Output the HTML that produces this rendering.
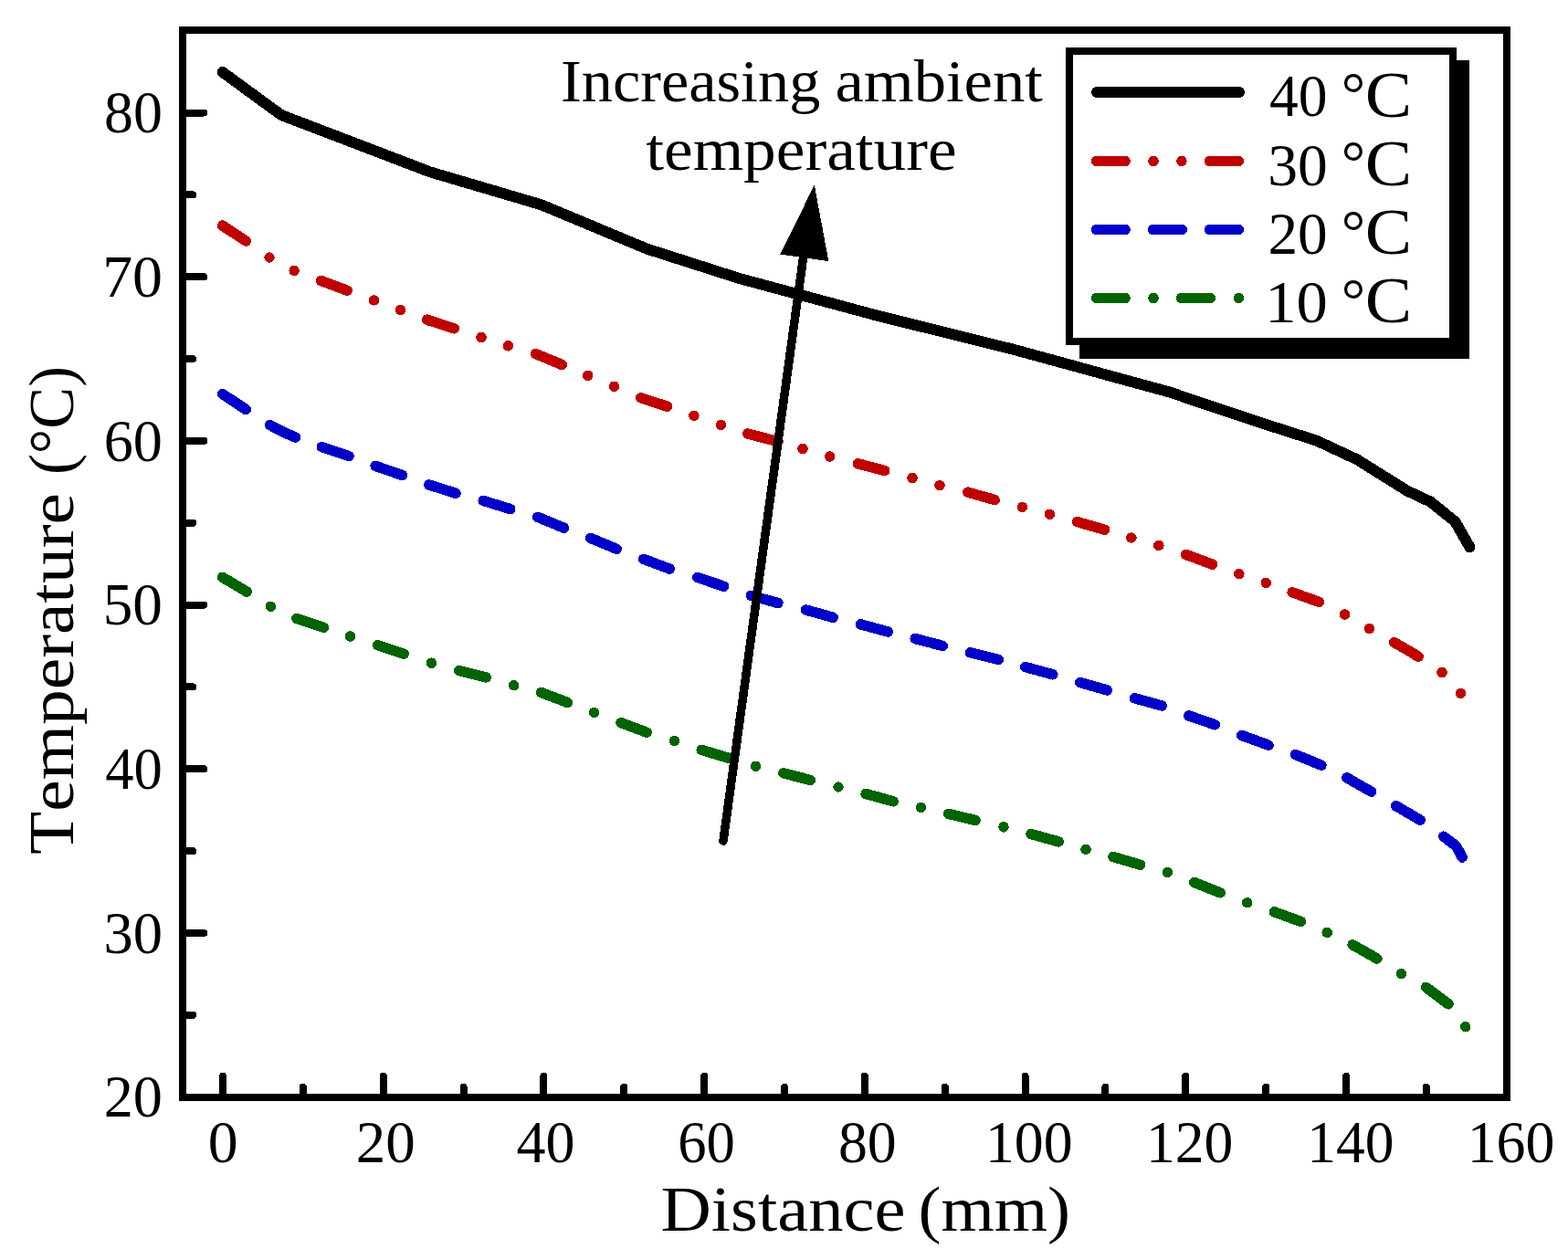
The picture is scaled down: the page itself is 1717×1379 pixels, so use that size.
<!DOCTYPE html>
<html><head><meta charset="utf-8"><title>Temperature vs Distance</title>
<style>html,body{margin:0;padding:0;background:#fff;}svg{display:block;}text{font-kerning:none;}</style>
</head><body>
<svg width="1717" height="1379" viewBox="0 0 1717 1379" shape-rendering="crispEdges">
<rect x="0" y="0" width="1717" height="1379" fill="#fff"/>
<polyline points="243.6,78.9 308.0,126.0 471.1,188.4 592.5,224.2 708.7,272.7 810.0,305.1 960.3,345.6 1110.0,382.8 1280.0,429.3 1380.0,462.9 1442.1,482.8 1486.0,503.3 1540.5,537.4 1566.2,549.5 1593.5,571.4 1609.4,599.4" fill="none" stroke="#000" stroke-width="12" stroke-linecap="round" stroke-linejoin="round"/>
<polyline points="243.6,247.1 269.3,264.0" fill="none" stroke="#c00000" stroke-width="11.5" stroke-linecap="round" stroke-linejoin="round"/>
<polyline points="351.4,307.4 380.3,318.2" fill="none" stroke="#c00000" stroke-width="11.5" stroke-linecap="round" stroke-linejoin="round"/>
<polyline points="467.6,350.2 497.3,359.8" fill="none" stroke="#c00000" stroke-width="11.5" stroke-linecap="round" stroke-linejoin="round"/>
<polyline points="586.4,387.5 615.2,399.4" fill="none" stroke="#c00000" stroke-width="11.5" stroke-linecap="round" stroke-linejoin="round"/>
<polyline points="701.7,435.8 730.6,445.2" fill="none" stroke="#c00000" stroke-width="11.5" stroke-linecap="round" stroke-linejoin="round"/>
<polyline points="818.7,475.0 852.0,483.7" fill="none" stroke="#c00000" stroke-width="11.5" stroke-linecap="round" stroke-linejoin="round"/>
<polyline points="939.3,507.8 968.7,515.5" fill="none" stroke="#c00000" stroke-width="11.5" stroke-linecap="round" stroke-linejoin="round"/>
<polyline points="1059.9,539.2 1089.2,547.5" fill="none" stroke="#c00000" stroke-width="11.5" stroke-linecap="round" stroke-linejoin="round"/>
<polyline points="1179.5,571.5 1209.7,580.3" fill="none" stroke="#c00000" stroke-width="11.5" stroke-linecap="round" stroke-linejoin="round"/>
<polyline points="1298.5,607.4 1327.6,618.2" fill="none" stroke="#c00000" stroke-width="11.5" stroke-linecap="round" stroke-linejoin="round"/>
<polyline points="1415.1,648.8 1444.5,659.4" fill="none" stroke="#c00000" stroke-width="11.5" stroke-linecap="round" stroke-linejoin="round"/>
<polyline points="1526.7,703.7 1543.0,713.0 1553.2,719.3" fill="none" stroke="#c00000" stroke-width="11.5" stroke-linecap="round" stroke-linejoin="round"/>
<circle cx="295.0" cy="282.0" r="5.75" fill="#c00000"/>
<circle cx="322.1" cy="296.4" r="5.75" fill="#c00000"/>
<circle cx="409.5" cy="328.9" r="5.75" fill="#c00000"/>
<circle cx="438.5" cy="339.5" r="5.75" fill="#c00000"/>
<circle cx="527.0" cy="369.4" r="5.75" fill="#c00000"/>
<circle cx="556.3" cy="378.8" r="5.75" fill="#c00000"/>
<circle cx="643.7" cy="411.3" r="5.75" fill="#c00000"/>
<circle cx="672.5" cy="423.3" r="5.75" fill="#c00000"/>
<circle cx="759.9" cy="455.3" r="5.75" fill="#c00000"/>
<circle cx="789.4" cy="465.5" r="5.75" fill="#c00000"/>
<circle cx="879.0" cy="491.5" r="5.75" fill="#c00000"/>
<circle cx="908.7" cy="500.0" r="5.75" fill="#c00000"/>
<circle cx="999.0" cy="523.5" r="5.75" fill="#c00000"/>
<circle cx="1029.0" cy="531.7" r="5.75" fill="#c00000"/>
<circle cx="1119.4" cy="555.5" r="5.75" fill="#c00000"/>
<circle cx="1149.4" cy="563.3" r="5.75" fill="#c00000"/>
<circle cx="1238.9" cy="589.0" r="5.75" fill="#c00000"/>
<circle cx="1268.8" cy="597.4" r="5.75" fill="#c00000"/>
<circle cx="1356.8" cy="628.7" r="5.75" fill="#c00000"/>
<circle cx="1386.3" cy="638.4" r="5.75" fill="#c00000"/>
<circle cx="1472.5" cy="673.0" r="5.75" fill="#c00000"/>
<circle cx="1499.5" cy="688.6" r="5.75" fill="#c00000"/>
<circle cx="1579.0" cy="736.6" r="5.75" fill="#c00000"/>
<circle cx="1599.4" cy="759.4" r="5.75" fill="#c00000"/>
<polyline points="243.6,431.5 269.3,448.6" fill="none" stroke="#0000c8" stroke-width="11.5" stroke-linecap="round" stroke-linejoin="round"/>
<polyline points="295.5,465.5 310.4,473.4 323.5,479.0" fill="none" stroke="#0000c8" stroke-width="11.5" stroke-linecap="round" stroke-linejoin="round"/>
<polyline points="352.3,489.5 382.0,499.6" fill="none" stroke="#0000c8" stroke-width="11.5" stroke-linecap="round" stroke-linejoin="round"/>
<polyline points="411.2,510.4 440.6,520.6" fill="none" stroke="#0000c8" stroke-width="11.5" stroke-linecap="round" stroke-linejoin="round"/>
<polyline points="469.7,531.0 499.1,540.3" fill="none" stroke="#0000c8" stroke-width="11.5" stroke-linecap="round" stroke-linejoin="round"/>
<polyline points="529.2,548.4 558.8,557.6" fill="none" stroke="#0000c8" stroke-width="11.5" stroke-linecap="round" stroke-linejoin="round"/>
<polyline points="588.7,566.3 617.5,578.2" fill="none" stroke="#0000c8" stroke-width="11.5" stroke-linecap="round" stroke-linejoin="round"/>
<polyline points="646.7,589.4 675.2,601.3" fill="none" stroke="#0000c8" stroke-width="11.5" stroke-linecap="round" stroke-linejoin="round"/>
<polyline points="704.7,612.3 733.2,623.1" fill="none" stroke="#0000c8" stroke-width="11.5" stroke-linecap="round" stroke-linejoin="round"/>
<polyline points="763.8,632.4 792.6,642.3" fill="none" stroke="#0000c8" stroke-width="11.5" stroke-linecap="round" stroke-linejoin="round"/>
<polyline points="822.2,652.3 851.9,660.5" fill="none" stroke="#0000c8" stroke-width="11.5" stroke-linecap="round" stroke-linejoin="round"/>
<polyline points="882.5,668.0 912.2,676.3" fill="none" stroke="#0000c8" stroke-width="11.5" stroke-linecap="round" stroke-linejoin="round"/>
<polyline points="942.4,683.8 972.2,692.0" fill="none" stroke="#0000c8" stroke-width="11.5" stroke-linecap="round" stroke-linejoin="round"/>
<polyline points="1002.2,699.5 1032.3,707.4" fill="none" stroke="#0000c8" stroke-width="11.5" stroke-linecap="round" stroke-linejoin="round"/>
<polyline points="1062.5,714.7 1093.3,722.5" fill="none" stroke="#0000c8" stroke-width="11.5" stroke-linecap="round" stroke-linejoin="round"/>
<polyline points="1122.7,730.6 1152.9,738.8" fill="none" stroke="#0000c8" stroke-width="11.5" stroke-linecap="round" stroke-linejoin="round"/>
<polyline points="1182.6,747.5 1212.3,755.9" fill="none" stroke="#0000c8" stroke-width="11.5" stroke-linecap="round" stroke-linejoin="round"/>
<polyline points="1242.5,764.7 1272.2,773.0" fill="none" stroke="#0000c8" stroke-width="11.5" stroke-linecap="round" stroke-linejoin="round"/>
<polyline points="1301.8,783.9 1330.3,793.8" fill="none" stroke="#0000c8" stroke-width="11.5" stroke-linecap="round" stroke-linejoin="round"/>
<polyline points="1359.7,805.5 1389.1,816.2" fill="none" stroke="#0000c8" stroke-width="11.5" stroke-linecap="round" stroke-linejoin="round"/>
<polyline points="1418.5,826.5 1447.0,838.2" fill="none" stroke="#0000c8" stroke-width="11.5" stroke-linecap="round" stroke-linejoin="round"/>
<polyline points="1474.8,851.8 1490.2,860.7 1501.7,867.2" fill="none" stroke="#0000c8" stroke-width="11.5" stroke-linecap="round" stroke-linejoin="round"/>
<polyline points="1528.6,882.7 1555.2,898.2" fill="none" stroke="#0000c8" stroke-width="11.5" stroke-linecap="round" stroke-linejoin="round"/>
<polyline points="1580.8,916.2 1594.6,926.8 1601.1,939.0" fill="none" stroke="#0000c8" stroke-width="11.5" stroke-linecap="round" stroke-linejoin="round"/>
<polyline points="243.6,632.3 270.2,648.1" fill="none" stroke="#006400" stroke-width="11.5" stroke-linecap="round" stroke-linejoin="round"/>
<polyline points="324.9,677.4 354.4,687.4" fill="none" stroke="#006400" stroke-width="11.5" stroke-linecap="round" stroke-linejoin="round"/>
<polyline points="413.5,706.6 442.3,716.2" fill="none" stroke="#006400" stroke-width="11.5" stroke-linecap="round" stroke-linejoin="round"/>
<polyline points="502.6,734.5 532.3,741.9" fill="none" stroke="#006400" stroke-width="11.5" stroke-linecap="round" stroke-linejoin="round"/>
<polyline points="592.6,758.5 621.4,769.5" fill="none" stroke="#006400" stroke-width="11.5" stroke-linecap="round" stroke-linejoin="round"/>
<polyline points="680.0,791.7 708.3,802.2" fill="none" stroke="#006400" stroke-width="11.5" stroke-linecap="round" stroke-linejoin="round"/>
<polyline points="768.2,821.4 797.5,830.2" fill="none" stroke="#006400" stroke-width="11.5" stroke-linecap="round" stroke-linejoin="round"/>
<polyline points="857.8,846.8 887.5,854.5" fill="none" stroke="#006400" stroke-width="11.5" stroke-linecap="round" stroke-linejoin="round"/>
<polyline points="948.1,869.5 978.3,877.8" fill="none" stroke="#006400" stroke-width="11.5" stroke-linecap="round" stroke-linejoin="round"/>
<polyline points="1038.6,891.4 1068.1,898.5" fill="none" stroke="#006400" stroke-width="11.5" stroke-linecap="round" stroke-linejoin="round"/>
<polyline points="1129.0,913.5 1159.2,921.9" fill="none" stroke="#006400" stroke-width="11.5" stroke-linecap="round" stroke-linejoin="round"/>
<polyline points="1219.0,938.5 1248.7,947.3" fill="none" stroke="#006400" stroke-width="11.5" stroke-linecap="round" stroke-linejoin="round"/>
<polyline points="1307.8,966.5 1336.2,977.8" fill="none" stroke="#006400" stroke-width="11.5" stroke-linecap="round" stroke-linejoin="round"/>
<polyline points="1395.5,998.8 1424.4,1009.4" fill="none" stroke="#006400" stroke-width="11.5" stroke-linecap="round" stroke-linejoin="round"/>
<polyline points="1481.1,1034.8 1507.9,1050.0" fill="none" stroke="#006400" stroke-width="11.5" stroke-linecap="round" stroke-linejoin="round"/>
<polyline points="1561.5,1081.4 1586.0,1099.8" fill="none" stroke="#006400" stroke-width="11.5" stroke-linecap="round" stroke-linejoin="round"/>
<circle cx="296.4" cy="664.3" r="5.75" fill="#006400"/>
<circle cx="383.4" cy="697.0" r="5.75" fill="#006400"/>
<circle cx="472.4" cy="726.2" r="5.75" fill="#006400"/>
<circle cx="562.6" cy="750.7" r="5.75" fill="#006400"/>
<circle cx="650.6" cy="780.4" r="5.75" fill="#006400"/>
<circle cx="738.5" cy="811.5" r="5.75" fill="#006400"/>
<circle cx="827.5" cy="839.3" r="5.75" fill="#006400"/>
<circle cx="918.0" cy="862.0" r="5.75" fill="#006400"/>
<circle cx="1008.4" cy="884.4" r="5.75" fill="#006400"/>
<circle cx="1099.0" cy="905.9" r="5.75" fill="#006400"/>
<circle cx="1189.0" cy="930.3" r="5.75" fill="#006400"/>
<circle cx="1278.4" cy="955.5" r="5.75" fill="#006400"/>
<circle cx="1365.8" cy="988.8" r="5.75" fill="#006400"/>
<circle cx="1453.2" cy="1021.5" r="5.75" fill="#006400"/>
<circle cx="1534.4" cy="1066.6" r="5.75" fill="#006400"/>
<circle cx="1604.7" cy="1124.6" r="5.75" fill="#006400"/>
<line x1="792" y1="921" x2="879.6" y2="282" stroke="#000" stroke-width="9.5" stroke-linecap="round"/>
<polygon points="891.6,204.2 855.1,278.1 906.7,285.5" fill="#000" stroke="#000" stroke-width="1" stroke-linejoin="miter"/>
<rect x="200" y="33" width="1450" height="1169" fill="none" stroke="#000" stroke-width="8" stroke-linejoin="miter"/>
<path d="M200 1022.00H223.3 M200 842.30H223.3 M200 662.60H223.3 M200 482.90H223.3 M200 303.20H223.3 M200 123.50H223.3 M200 1111.85H211.2 M200 932.15H211.2 M200 752.45H211.2 M200 572.75H211.2 M200 393.05H211.2 M200 213.35H211.2 M244.00 1202V1178.8 M419.72 1202V1178.8 M595.44 1202V1178.8 M771.16 1202V1178.8 M946.88 1202V1178.8 M1122.60 1202V1178.8 M1298.32 1202V1178.8 M1474.04 1202V1178.8 M331.86 1202V1190.8 M507.58 1202V1190.8 M683.30 1202V1190.8 M859.02 1202V1190.8 M1034.74 1202V1190.8 M1210.46 1202V1190.8 M1386.18 1202V1190.8 M1561.90 1202V1190.8" stroke="#000" stroke-width="8" stroke-linecap="round" fill="none"/>
<g font-family="Liberation Serif, serif" fill="#000">
<text x="113.68" y="1223.30" font-size="66.00" textLength="64.27" lengthAdjust="spacingAndGlyphs" >20</text>
<text x="113.41" y="1043.60" font-size="66.00" textLength="64.55" lengthAdjust="spacingAndGlyphs" >30</text>
<text x="115.28" y="863.90" font-size="66.00" textLength="62.61" lengthAdjust="spacingAndGlyphs" >40</text>
<text x="112.71" y="684.20" font-size="66.00" textLength="65.28" lengthAdjust="spacingAndGlyphs" >50</text>
<text x="113.74" y="504.50" font-size="66.00" textLength="64.20" lengthAdjust="spacingAndGlyphs" >60</text>
<text x="112.16" y="324.80" font-size="66.00" textLength="65.85" lengthAdjust="spacingAndGlyphs" >70</text>
<text x="114.07" y="145.10" font-size="66.00" textLength="63.86" lengthAdjust="spacingAndGlyphs" >80</text>
<text x="227.69" y="1272.50" font-size="66.00" textLength="32.91" lengthAdjust="spacingAndGlyphs" >0</text>
<text x="389.64" y="1272.50" font-size="66.00" textLength="65.03" lengthAdjust="spacingAndGlyphs" >20</text>
<text x="565.55" y="1272.50" font-size="66.00" textLength="63.99" lengthAdjust="spacingAndGlyphs" >40</text>
<text x="742.21" y="1272.50" font-size="66.00" textLength="62.68" lengthAdjust="spacingAndGlyphs" >60</text>
<text x="917.97" y="1272.50" font-size="66.00" textLength="63.76" lengthAdjust="spacingAndGlyphs" >80</text>
<text x="1078.89" y="1272.50" font-size="66.00" textLength="95.74" lengthAdjust="spacingAndGlyphs" >100</text>
<text x="1255.01" y="1272.50" font-size="66.00" textLength="95.41" lengthAdjust="spacingAndGlyphs" >120</text>
<text x="1431.32" y="1272.50" font-size="66.00" textLength="95.19" lengthAdjust="spacingAndGlyphs" >140</text>
<text x="1606.69" y="1272.50" font-size="66.00" textLength="95.74" lengthAdjust="spacingAndGlyphs" >160</text>
</g>
<g font-family="Liberation Serif, serif" fill="#000">
<text x="723.49" y="1348.00" font-size="70.00" textLength="268.06" lengthAdjust="spacingAndGlyphs" >Distance</text>
<text x="1005.50" y="1348.00" font-size="70.00" textLength="166.59" lengthAdjust="spacingAndGlyphs" >(mm)</text>
<g transform="translate(80,0) rotate(-90)"><text x="-936.10" y="0.00" font-size="70.30" textLength="395.99" lengthAdjust="spacingAndGlyphs" >Temperature</text><text x="-520.02" y="0.00" font-size="70.30" textLength="119.04" lengthAdjust="spacingAndGlyphs" >(°C)</text></g>
<text x="614.13" y="111.10" font-size="65.50" textLength="284.16" lengthAdjust="spacingAndGlyphs" >Increasing</text>
<text x="914.42" y="111.10" font-size="65.50" textLength="227.40" lengthAdjust="spacingAndGlyphs" >ambient</text>
<text x="707.20" y="185.90" font-size="65.50" textLength="340.47" lengthAdjust="spacingAndGlyphs" >temperature</text>
</g>
<rect x="1181.5" y="66" width="427.5" height="327" fill="#000"/>
<rect x="1171" y="56" width="420" height="318" fill="#fff" stroke="#000" stroke-width="8"/>
<line x1="1201" y1="101" x2="1357" y2="101" stroke="#000" stroke-width="12" stroke-linecap="round"/>
<line x1="1200.6" y1="176.4" x2="1232" y2="176.4" stroke="#c00000" stroke-width="11.5" stroke-linecap="round"/><circle cx="1263" cy="176.4" r="5.75" fill="#c00000"/><circle cx="1293.9" cy="176.4" r="5.75" fill="#c00000"/><line x1="1324.4" y1="176.4" x2="1356.2" y2="176.4" stroke="#c00000" stroke-width="11.5" stroke-linecap="round"/>
<line x1="1200.6" y1="251.5" x2="1232" y2="251.5" stroke="#0000c8" stroke-width="11.5" stroke-linecap="round"/><line x1="1262.6" y1="251.5" x2="1294.2" y2="251.5" stroke="#0000c8" stroke-width="11.5" stroke-linecap="round"/><line x1="1324.4" y1="251.5" x2="1356.2" y2="251.5" stroke="#0000c8" stroke-width="11.5" stroke-linecap="round"/>
<line x1="1200.6" y1="326.4" x2="1232" y2="326.4" stroke="#006400" stroke-width="11.5" stroke-linecap="round"/><circle cx="1263" cy="326.4" r="5.75" fill="#006400"/><line x1="1293.4" y1="326.4" x2="1325.2" y2="326.4" stroke="#006400" stroke-width="11.5" stroke-linecap="round"/><circle cx="1356.4" cy="326.4" r="5.75" fill="#006400"/>
<g font-family="Liberation Serif, serif" fill="#000">
<text x="1390.06" y="127.30" font-size="65.20" textLength="63.56" lengthAdjust="spacingAndGlyphs" >40</text>
<text x="1468.84" y="125.00" font-size="66.00" textLength="26.38" lengthAdjust="spacingAndGlyphs" >°</text>
<text x="1494.84" y="127.50" font-size="71.40" textLength="51.41" lengthAdjust="spacingAndGlyphs" >C</text>
<text x="1388.16" y="202.60" font-size="65.20" textLength="65.53" lengthAdjust="spacingAndGlyphs" >30</text>
<text x="1468.84" y="200.30" font-size="66.00" textLength="26.38" lengthAdjust="spacingAndGlyphs" >°</text>
<text x="1494.84" y="202.80" font-size="71.40" textLength="51.41" lengthAdjust="spacingAndGlyphs" >C</text>
<text x="1388.43" y="277.90" font-size="65.20" textLength="65.25" lengthAdjust="spacingAndGlyphs" >20</text>
<text x="1468.84" y="275.60" font-size="66.00" textLength="26.38" lengthAdjust="spacingAndGlyphs" >°</text>
<text x="1494.84" y="278.10" font-size="71.40" textLength="51.41" lengthAdjust="spacingAndGlyphs" >C</text>
<text x="1385.28" y="353.20" font-size="65.20" textLength="68.53" lengthAdjust="spacingAndGlyphs" >10</text>
<text x="1468.84" y="350.90" font-size="66.00" textLength="26.38" lengthAdjust="spacingAndGlyphs" >°</text>
<text x="1494.84" y="353.40" font-size="71.40" textLength="51.41" lengthAdjust="spacingAndGlyphs" >C</text>
</g>
</svg>
</body></html>
